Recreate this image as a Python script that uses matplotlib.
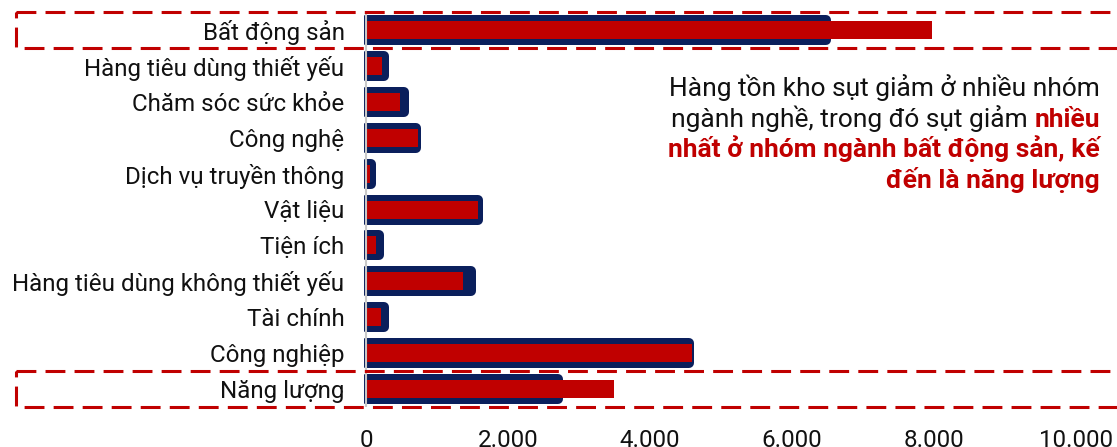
import matplotlib
matplotlib.use("Agg")
import matplotlib.pyplot as plt
from matplotlib.patches import Rectangle
import matplotlib.transforms as mtransforms

plt.rcParams['font.family'] = ['Roboto', 'DejaVu Sans']

# nhóm ngành, từ trên xuống dưới
categories = ["Bất động sản", "Hàng tiêu dùng thiết yếu", "Chăm sóc sức khỏe",
              "Công nghệ", "Dịch vụ truyền thông", "Vật liệu", "Tiện ích",
              "Hàng tiêu dùng không thiết yếu", "Tài chính", "Công nghiệp",
              "Năng lượng"]
# thanh xanh (kỳ sau) và thanh đỏ (kỳ trước)
navy_vals = [6480, 250, 530, 700, 70, 1580, 185, 1480, 250, 4550, 2700]
red_vals = [7970, 225, 480, 730, 56, 1580, 140, 1365, 210, 4590, 3490]
xticks = [0, 2000, 4000, 6000, 8000, 10000]
highlight = ["Bất động sản", "Năng lượng"]

NAVY = "#0A1F5C"
RED = "#C00000"
W, H = 1117, 447

fig = plt.figure(figsize=(W / 100, H / 100), dpi=100)
ax = fig.add_axes([364 / W, 1 - 407 / H, (1076 - 364) / W, 395 / H])

y = list(range(len(categories)))
r_px = 5                      # bán kính bo góc của viền xanh
lw_pt = 2 * r_px * 72 / 100
row_px = 395 / len(categories)
navy_h = (30 - 2 * r_px) / row_px

bars = ax.barh(y, navy_vals, height=navy_h, color=NAVY, edgecolor=NAVY,
               linewidth=lw_pt, zorder=1)
for b in bars:
    b.set_joinstyle('round')
ax.barh(y, red_vals, height=18 / row_px, color=RED, zorder=2)

ax.axvline(0, color="#C8C8C8", lw=1.5, zorder=5)

ax.set_xlim(-28, 10000)
ax.set_ylim(len(categories) - 0.5, -0.5)
ax.set_yticks(y)
ax.set_yticklabels(categories, fontsize=17.4, color='#111111')
ax.set_xticks(xticks)
ax.set_xticklabels([f"{v:,}".replace(",", ".") for v in xticks],
                   fontsize=17.4, color='#111111')
ax.tick_params(axis='y', length=0, pad=14)
ax.tick_params(axis='x', length=0, pad=16)
for s in ax.spines.values():
    s.set_visible(False)

# khung nét đứt quanh hai nhóm ngành nổi bật
trans = mtransforms.blended_transform_factory(fig.transFigure, ax.transData)
for name in highlight:
    i = categories.index(name)
    rect = Rectangle((16 / W, i - 0.5), 1.1, 1.0, transform=trans, fill=False,
                     edgecolor=RED, lw=2.2, linestyle=(0, (6.5, 3)),
                     clip_on=False, zorder=6)
    fig.add_artist(rect)

# chú thích bên phải
fs = 19
xr = 1100 / W
fig.text(xr, 1 - 96 / H, "Hàng tồn kho sụt giảm ở nhiều nhóm", ha='right',
         va='baseline', fontsize=fs, color='#111111')
t = fig.text(xr, 1 - 127 / H, "nhiều", ha='right', va='baseline', fontsize=fs,
             color=RED, weight='bold')
ax.annotate("ngành nghề, trong đó sụt giảm", xy=(0, 0), xycoords=t,
            xytext=(-5, 0), textcoords='offset points', ha='right',
            va='bottom', fontsize=fs, color='#111111', annotation_clip=False)
fig.text(xr, 1 - 157 / H, "nhất ở nhóm ngành bất động sản, kế", ha='right',
         va='baseline', fontsize=fs, color=RED, weight='bold')
fig.text(xr, 1 - 188 / H, "đến là năng lượng", ha='right', va='baseline',
         fontsize=fs, color=RED, weight='bold')

fig.savefig("out.png", dpi=100)
